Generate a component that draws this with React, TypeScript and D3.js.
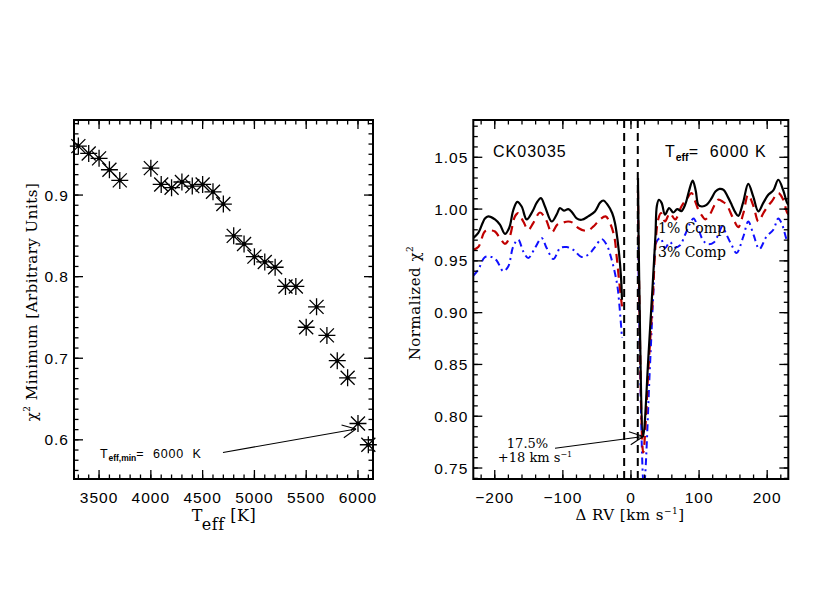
import React, { useEffect, useRef } from 'react';
import * as d3 from 'd3';

// left panel: chi^2 minimum vs Teff
const teff = [3300, 3400, 3500, 3600, 3700, 4000, 4100, 4200, 4300, 4400, 4500, 4600, 4700, 4800,
  4900, 5000, 5100, 5200, 5300, 5400, 5500, 5600, 5700, 5800, 5900, 6000, 6100];
const chi2Min = [0.960, 0.951, 0.945, 0.931, 0.918, 0.933, 0.913, 0.909, 0.916, 0.911, 0.913, 0.904,
  0.889, 0.850, 0.840, 0.8245, 0.818, 0.8115, 0.788, 0.788, 0.738, 0.763, 0.728, 0.697, 0.676, 0.620, 0.594];

const teffMajor = [3500, 4000, 4500, 5000, 5500, 6000];
const chiMajor = [0.6, 0.7, 0.8, 0.9];

// right panel: normalized chi^2 vs delta RV (null = masked region)
type Pt = [number, number] | null;
const blackCurve: Pt[] = [
  [-231.6, 0.972], [-224.2, 0.977], [-214.4, 0.991], [-209.5, 0.993], [-199.7, 0.990], [-192.4, 0.985],
  [-185, 0.976], [-178.7, 0.982], [-172.8, 0.999], [-166.9, 1.007], [-160.5, 1.0025], [-153.2, 0.990],
  [-144.4, 0.998], [-138.5, 1.006], [-132.2, 1.0106], [-126.3, 1.0025], [-116.4, 0.988], [-108.2, 0.996],
  [-104.3, 1.001], [-98.4, 0.9985], [-92.1, 1.000], [-86.3, 0.9967], [-79.7, 0.991], [-72.4, 0.9897],
  [-62.7, 0.993], [-52.9, 0.9977], [-45.5, 1.006], [-40.7, 1.0083], [-34.2, 1.004], [-27.5, 0.996],
  [-23.5, 0.9865], [-18.6, 0.964], [-14.7, 0.935], [-13.2, 0.9125],
  null,
  [10.3, 1.030], [12, 0.935], [18, 0.7805], [26, 0.862], [32, 0.928], [36, 0.975], [38, 1.003],
  [41, 1.009], [45, 1.006], [50, 0.9945], [56, 1.001], [62, 0.9967], [68, 1.000], [74, 0.998],
  [80, 1.005], [85, 1.017], [90.6, 1.0275], [95, 1.018], [99, 1.004], [104, 1.0025], [111, 1.004],
  [118, 1.010], [124, 1.017], [130, 1.0195], [136, 1.0185], [142, 1.012], [148, 1.004], [153, 0.997],
  [157.6, 0.9935], [164.5, 1.006], [172.2, 1.0244], [179.6, 1.012], [187, 0.9977], [194.3, 1.006],
  [201.6, 1.0138], [209, 1.018], [216.3, 1.0283], [223.6, 1.018], [228.6, 1.007], [231, 1.004],
];
const redCurve: Pt[] = [
  [-231.6, 0.9607], [-224.2, 0.9633], [-214.4, 0.9784], [-207, 0.9794], [-199.7, 0.9784], [-192.4, 0.972],
  [-185, 0.9665], [-178.7, 0.972], [-170.3, 0.993], [-165.5, 0.996], [-158.1, 0.988], [-150.8, 0.980],
  [-143.5, 0.9865], [-133.6, 0.9967], [-124.8, 0.9897], [-116.4, 0.9774], [-108.2, 0.985], [-101.8, 0.9865],
  [-92.1, 0.988], [-84.7, 0.9865], [-77.4, 0.9817], [-65.1, 0.979], [-55.4, 0.983], [-45.5, 0.990],
  [-37.2, 0.993], [-30.8, 0.9865], [-24.5, 0.9735], [-21, 0.954], [-17.6, 0.932], [-13.2, 0.906],
  null,
  [10.3, 1.018], [12, 0.925], [18, 0.765], [26, 0.85], [32, 0.915], [37, 0.975], [40, 0.99], [44, 0.996],
  [50, 0.988], [57, 0.996], [65, 0.990], [74, 1.0025], [82, 1.010], [89, 1.0155], [94, 1.008], [99, 0.9993],
  [105, 0.993], [109, 0.990], [116, 0.995], [122, 1.003], [128, 1.009], [135, 1.007], [140.5, 1.004],
  [150, 0.991], [157.6, 0.9826], [165, 0.996], [172, 1.0138], [180, 1.0025], [187, 0.988], [194.3, 0.996],
  [200, 1.002], [206.6, 1.0073], [216.3, 1.0155], [223.6, 1.009], [228.6, 0.9977], [231, 0.995],
];
const blueCurve: Pt[] = [
  [-231.6, 0.9356], [-224.2, 0.9414], [-214.4, 0.9537], [-204.6, 0.9537], [-197.2, 0.9504], [-187.5, 0.940],
  [-180.2, 0.9446], [-172.8, 0.964], [-165.5, 0.9704], [-158.1, 0.959], [-150.8, 0.9527], [-141, 0.9624],
  [-131.2, 0.972], [-123.8, 0.9624], [-114.1, 0.9517], [-108.2, 0.9575], [-104.3, 0.9624], [-94.4, 0.9633],
  [-84.7, 0.9607], [-72.4, 0.9537], [-62.7, 0.956], [-52.9, 0.9633], [-43.1, 0.971], [-35.7, 0.9655],
  [-28.3, 0.951], [-23.5, 0.938], [-19.5, 0.9237], [-13.2, 0.8755],
  null,
  [10.3, 0.99], [12, 0.90], [19, 0.732], [28, 0.85], [33, 0.92], [37.7, 0.9687], [43.6, 0.972],
  [49.9, 0.9624], [57.3, 0.968], [64.6, 0.963], [72, 0.965], [79.3, 0.975], [86.6, 0.986], [92, 0.991],
  [98.4, 0.982], [105.7, 0.970], [113, 0.966], [122, 0.968], [128, 0.975], [134, 0.983], [140.5, 0.975],
  [148, 0.965], [155, 0.9575], [165, 0.9735], [172.2, 0.988], [180, 0.975], [188.5, 0.9614], [199, 0.9735],
  [209, 0.980], [216.3, 0.991], [222, 0.985], [228.6, 0.9704], [231, 0.968],
];
const maskEdges = [-10, 10];
const rvMajor = [-200, -100, 0, 100, 200];
const normMajor = [0.75, 0.80, 0.85, 0.90, 0.95, 1.00, 1.05];
const bestFit = { rv: 18, chi: 0.7805, frac: '17.5%' };

const SANS = '"Liberation Sans", Arial, sans-serif';
const SERIF = '"DejaVu Serif", serif';

function drawAxes(g: any, x: any, y: any, xMaj: number[], xMinStep: number, yMaj: number[], yMinStep: number, xFmt: any, yFmt: any) {
  const [x0, x1] = x.range();
  const [y1, y0] = y.range();
  const [dx0, dx1] = x.domain();
  const [dy0, dy1] = y.domain();
  const xMinor = d3.range(Math.ceil(dx0 / xMinStep), Math.floor(dx1 / xMinStep) + 1).map((i) => i * xMinStep);
  const base = yMaj[0];
  const yMinor = d3.range(-40, 80).map((i) => base + i * yMinStep).filter((v) => v >= dy0 && v <= dy1);
  const tk = g.append('g').attr('stroke', '#000').attr('stroke-width', 1.3);
  xMinor.forEach((v) => {
    tk.append('line').attr('x1', x(v)).attr('x2', x(v)).attr('y1', y1).attr('y2', y1 - 4.5);
    tk.append('line').attr('x1', x(v)).attr('x2', x(v)).attr('y1', y0).attr('y2', y0 + 4.5);
  });
  xMaj.forEach((v) => {
    tk.append('line').attr('x1', x(v)).attr('x2', x(v)).attr('y1', y1).attr('y2', y1 - 9);
    tk.append('line').attr('x1', x(v)).attr('x2', x(v)).attr('y1', y0).attr('y2', y0 + 9);
  });
  yMinor.forEach((v) => {
    tk.append('line').attr('x1', x0).attr('x2', x0 + 4.5).attr('y1', y(v)).attr('y2', y(v));
    tk.append('line').attr('x1', x1).attr('x2', x1 - 4.5).attr('y1', y(v)).attr('y2', y(v));
  });
  yMaj.forEach((v) => {
    tk.append('line').attr('x1', x0).attr('x2', x0 + 9).attr('y1', y(v)).attr('y2', y(v));
    tk.append('line').attr('x1', x1).attr('x2', x1 - 9).attr('y1', y(v)).attr('y2', y(v));
  });
  g.append('rect').attr('x', x0).attr('y', y0).attr('width', x1 - x0).attr('height', y1 - y0)
    .attr('fill', 'none').attr('stroke', '#000').attr('stroke-width', 2);
  const lab = g.append('g').style('font-family', SANS).style('font-size', '15.5px').style('letter-spacing', '1px');
  xMaj.forEach((v) => {
    lab.append('text').attr('x', x(v)).attr('y', y1 + 24).attr('text-anchor', 'middle').text(xFmt(v));
  });
  yMaj.forEach((v) => {
    lab.append('text').attr('x', x0 - 5).attr('y', y(v) + 5.5).attr('text-anchor', 'end').text(yFmt(v));
  });
}

function arrow(g: any, sx: number, sy: number, tx: number, ty: number) {
  const ang = Math.atan2(ty - sy, tx - sx);
  const len = 15, spread = 0.45;
  g.append('line').attr('x1', sx).attr('y1', sy).attr('x2', tx).attr('y2', ty);
  [-spread, spread].forEach((s) => {
    g.append('line').attr('x1', tx).attr('y1', ty)
      .attr('x2', tx - len * Math.cos(ang + s)).attr('y2', ty - len * Math.sin(ang + s));
  });
}

const App = () => {
  const ref = useRef<SVGSVGElement>(null);

  useEffect(() => {
    const svg = d3.select(ref.current);
    svg.selectAll('*').remove();

    // ---------- left panel ----------
    const xL = d3.scaleLinear().domain([3258, 6145]).range([74, 373]);
    const yL = d3.scaleLinear().domain([0.552, 0.992]).range([479, 120]);
    const gL = svg.append('g');
    drawAxes(gL, xL, yL, teffMajor, 100, chiMajor, 0.0125, d3.format('d'), d3.format('.1f'));

    const pts = gL.append('g').attr('stroke', '#000').attr('stroke-width', 1.3);
    teff.forEach((t, i) => {
      const px = xL(t), py = yL(chi2Min[i]);
      pts.append('path').attr('transform', `translate(${px},${py})`)
        .attr('d', 'M-8.5,0H8.5M0,-8.5V8.5M-7,-7L7,7M-7,7L7,-7').attr('fill', 'none');
      pts.append('circle').attr('cx', px).attr('cy', py).attr('r', 2).attr('fill', '#000').attr('stroke', 'none');
    });

    const yl = gL.append('text').attr('transform', 'translate(37,302) rotate(-90)').attr('text-anchor', 'middle')
      .style('font-family', SERIF).style('font-size', '15px').style('letter-spacing', '0.5px');
    yl.append('tspan').text('χ');
    yl.append('tspan').attr('dy', -7).style('font-size', '9px').text('2');
    yl.append('tspan').attr('dy', 7).text(' Minimum [Arbitrary Units]');

    const xl = gL.append('text').attr('x', 224).attr('y', 521).attr('text-anchor', 'middle')
      .style('font-family', SERIF).style('font-size', '16px').style('letter-spacing', '0.5px');
    xl.append('tspan').text('T');
    xl.append('tspan').attr('dy', 9).text('eff');
    xl.append('tspan').attr('dy', -9).text(' [K]');

    const ann = gL.append('text').attr('x', 100).attr('y', 458).style('font-family', SANS)
      .style('font-size', '12.5px').style('letter-spacing', '0.8px').attr('xml:space', 'preserve');
    ann.append('tspan').text('T');
    ann.append('tspan').attr('dy', 3).style('font-size', '8.5px').style('font-weight', 'bold').style('letter-spacing', '0px').text('eff,min');
    ann.append('tspan').attr('dy', -3).text('=  6000  K');
    const aL = gL.append('g').attr('stroke', '#000').attr('stroke-width', 1.1);
    const idx = teff.indexOf(6000);
    arrow(aL, 223, 452.5, xL(teff[idx]) - 2, yL(chi2Min[idx]) + 5.5);

    // ---------- right panel ----------
    const xR = d3.scaleLinear().domain([-231.5, 231]).range([473.3, 788.3]);
    const yR = d3.scaleLinear().domain([0.7394, 1.086]).range([479, 120]);
    const gR = svg.append('g');
    svg.append('defs').append('clipPath').attr('id', 'clipR').append('rect')
      .attr('x', 473.3).attr('y', 120).attr('width', 315).attr('height', 359);

    const line = d3.line<Pt>().defined((d) => d !== null)
      .x((d) => xR((d as [number, number])[0])).y((d) => yR((d as [number, number])[1]))
      .curve(d3.curveCatmullRom.alpha(0.5));
    const cg = gR.append('g').attr('clip-path', 'url(#clipR)').attr('fill', 'none');
    cg.append('path').datum(blueCurve).attr('d', line).attr('stroke', '#1010ff').attr('stroke-width', 2)
      .attr('stroke-dasharray', '7,4,2,4');
    cg.append('path').datum(redCurve).attr('d', line).attr('stroke', '#c00000').attr('stroke-width', 2.2)
      .attr('stroke-dasharray', '9,6');
    cg.append('path').datum(blackCurve).attr('d', line).attr('stroke', '#000').attr('stroke-width', 2.2);

    maskEdges.forEach((v) => {
      gR.append('line').attr('x1', xR(v)).attr('x2', xR(v)).attr('y1', 120).attr('y2', 479)
        .attr('stroke', '#000').attr('stroke-width', 2).attr('stroke-dasharray', '8,5');
    });

    drawAxes(gR, xR, yR, rvMajor, 20, normMajor, 0.01, d3.format('d'), d3.format('.2f'));

    const yr = gR.append('text').attr('transform', 'translate(420,303) rotate(-90)').attr('text-anchor', 'middle')
      .style('font-family', SERIF).style('font-size', '15px').style('letter-spacing', '0.5px');
    yr.append('tspan').text('Normalized χ');
    yr.append('tspan').attr('dy', -7).style('font-size', '9px').text('2');

    const xr = gR.append('text').attr('x', 630).attr('y', 520).attr('text-anchor', 'middle')
      .style('font-family', SERIF).style('font-size', '15px').style('letter-spacing', '0.5px')
      .attr('xml:space', 'preserve');
    xr.append('tspan').text('Δ RV [km s');
    xr.append('tspan').attr('dy', -6).style('font-size', '9px').text('−1');
    xr.append('tspan').attr('dy', 6).text(']');

    gR.append('text').attr('x', 493).attr('y', 156.7).style('font-family', SANS).style('font-size', '16px')
      .style('letter-spacing', '1px').text('CK03035');
    const tl = gR.append('text').attr('x', 665).attr('y', 156.7).style('font-family', SANS)
      .style('font-size', '16px').style('letter-spacing', '1px').attr('xml:space', 'preserve');
    tl.append('tspan').text('T');
    tl.append('tspan').attr('dy', 4).style('font-size', '10.5px').style('font-weight', 'bold').style('letter-spacing', '0px').text('eff');
    tl.append('tspan').attr('dy', -4).text('=  6000 K');

    const comp = gR.append('g').style('font-family', SERIF).style('font-size', '14px');
    comp.append('text').attr('x', 658).attr('y', 233.3).text('1% Comp');
    comp.append('text').attr('x', 658).attr('y', 257.3).text('3% Comp');

    const bf = gR.append('g').style('font-family', SERIF).style('font-size', '13px');
    bf.append('text').attr('x', 527.5).attr('y', 448.3).attr('text-anchor', 'middle').text(bestFit.frac);
    const rvT = bf.append('text').attr('x', 535).attr('y', 461.7).attr('text-anchor', 'middle')
      .attr('xml:space', 'preserve');
    rvT.append('tspan').text(`+${bestFit.rv} km s`);
    rvT.append('tspan').attr('dy', -5).style('font-size', '8px').text('−1');
    const aR = gR.append('g').attr('stroke', '#000').attr('stroke-width', 1.1);
    arrow(aR, 555, 448.3, xR(bestFit.rv), yR(bestFit.chi));
  }, []);

  return (
    <svg ref={ref} width={830} height={600}
      style={{ position: 'absolute', left: 0, top: 0, background: '#fff' }} />
  );
};

export default App;
